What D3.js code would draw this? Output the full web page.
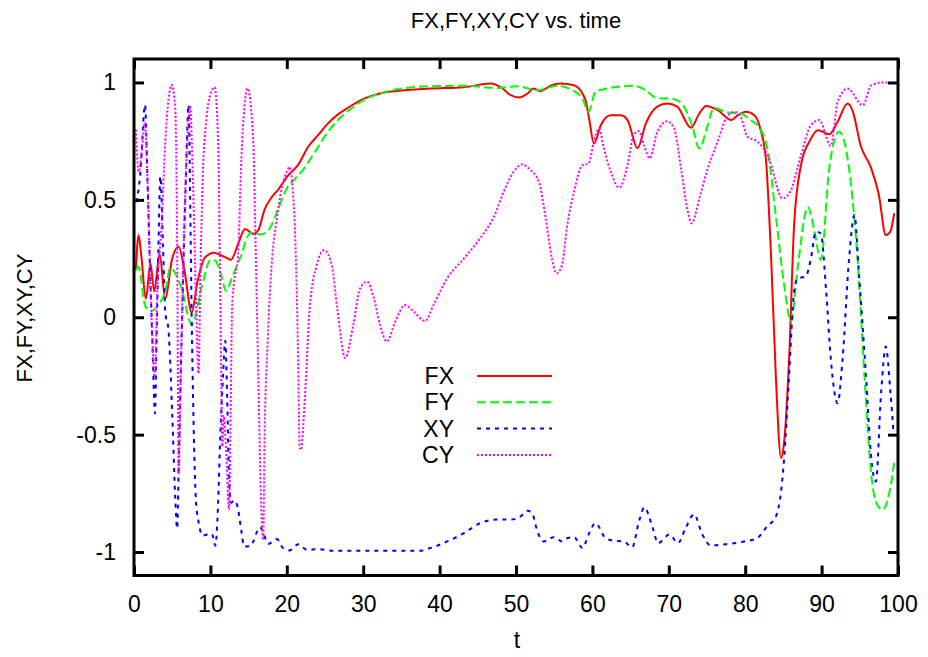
<!DOCTYPE html>
<html>
<head>
<meta charset="utf-8">
<script src="https://cdn.jsdelivr.net/npm/d3@7"></script>
<style>
  body { margin: 0; background: #fff; }
  text { font-family: "Liberation Sans", Arial, sans-serif; fill: #000; }
</style>
</head>
<body>
<svg id="chart" width="928" height="657"></svg>
<script>
// ---- data -------------------------------------------------------------
const seriesNames = ["FX", "FY", "XY", "CY"];
const seriesColors = ["#ff0000", "#00ff00", "#0000ff", "#ff00ff"];
const xTicks = [0, 10, 20, 30, 40, 50, 60, 70, 80, 90, 100];
const yTicks = [-1, -0.5, 0, 0.5, 1];
const yTickLabels = ["-1", "-0.5", "0", "0.5", "1"];

const fxTime = [0.25,0.6,0.9,1.57,2.15,2.65,3.35,4.08,5.0,5.85,6.6,7.55,8.3,9.3,10.5,11.3,12.0,12.7,13.6,14.55,15.6,16.25,17.1,18.0,18.9,20.2,21.5,22.8,24.1,25.4,26.7,27.9,30.05,32.2,34.4,38.8,43.2,46.7,48.0,49.3,50.4,51.5,52.3,53.2,54.5,55.8,57.6,59.1,59.6,60.2,61.1,62.4,63.7,64.6,65.9,67.0,68.5,69.8,71.1,72.9,74.0,74.9,76.4,78.2,79.0,80.1,81.2,82.0,82.7,83.4,84.0,84.7,85.1,85.75,86.4,87.3,88.4,89.5,91.0,92.1,93.4,94.1,95.1,96.5,97.5,98.4,99.0,99.5];
const fxValue = [0.20,0.35,0.28,0.08,0.23,0.11,0.27,0.08,0.25,0.30,0.20,0.02,0.15,0.255,0.275,0.265,0.255,0.245,0.31,0.376,0.355,0.37,0.46,0.51,0.545,0.605,0.65,0.726,0.776,0.826,0.864,0.89,0.93,0.953,0.964,0.974,0.98,0.996,0.98,0.946,0.936,0.953,0.974,0.963,0.986,0.996,0.988,0.925,0.84,0.74,0.818,0.86,0.86,0.84,0.72,0.826,0.897,0.91,0.897,0.807,0.868,0.9,0.882,0.84,0.86,0.875,0.86,0.80,0.677,0.25,-0.245,-0.6,-0.53,-0.175,0.393,0.648,0.748,0.797,0.779,0.833,0.91,0.875,0.733,0.634,0.52,0.35,0.365,0.443];

const fyTime = [0.25,0.6,1.5,2.35,3.3,4.1,4.75,5.4,6.2,7.56,8.9,10.0,10.6,11.4,12.05,12.8,13.2,14.1,14.8,15.4,16.7,17.8,18.9,20.0,21.1,22.1,23.7,25.4,26.7,27.9,30.05,32.2,34.4,38.8,43.2,47.5,50.2,52.8,55.4,57.6,58.7,59.5,60.4,61.5,65.4,67.0,68.3,70.7,72.0,73.1,74.0,75.1,75.9,77.7,79.4,80.7,81.8,82.9,84.0,85.1,86.0,86.9,88.2,89.0,89.9,91.0,92.3,93.4,94.7,95.6,96.5,97.3,98.0,98.9,99.5];
const fyValue = [0.20,0.215,0.045,0.028,0.058,0.11,0.21,0.187,0.125,-0.03,0.133,0.244,0.242,0.18,0.112,0.166,0.20,0.27,0.34,0.36,0.353,0.38,0.464,0.549,0.59,0.627,0.705,0.79,0.84,0.875,0.925,0.953,0.971,0.984,0.986,0.977,0.984,0.967,0.986,0.963,0.932,0.875,0.96,0.971,0.986,0.967,0.935,0.929,0.897,0.811,0.719,0.818,0.892,0.872,0.868,0.84,0.81,0.719,0.435,0.137,-0.018,0.22,0.47,0.379,0.244,0.634,0.79,0.677,0.25,-0.245,-0.671,-0.80,-0.82,-0.742,-0.62];

const xyTime = [0.3,0.8,1.45,1.75,2.1,2.4,2.75,2.95,3.2,3.45,3.8,4.1,4.5,5.0,5.4,5.65,5.9,6.3,6.75,7.15,7.35,7.55,7.8,8.1,8.5,8.95,9.6,10.2,10.65,11.0,11.3,11.65,11.95,12.2,12.45,12.7,13.1,13.5,14.1,14.4,15.2,16.5,17.6,18.7,19.5,20.4,21.5,22.6,24.1,26.3,30.0,37.4,38.8,41.0,43.2,45.3,47.5,49.3,50.6,51.5,52.1,52.8,53.6,54.95,56.05,56.8,57.6,58.7,59.5,60.4,61.7,62.8,64.1,65.2,66.1,66.8,67.9,68.6,70.1,71.2,72.2,73.3,74.4,75.5,77.7,79.9,81.6,82.9,84.0,84.7,85.1,85.75,86.4,86.85,87.9,88.6,89.25,89.9,90.6,91.2,92.1,92.75,93.6,94.3,94.9,95.8,96.5,97.1,97.8,98.4,99.0,99.4];
const xyValue = [0.49,0.6,0.905,0.6,0.2,-0.1,-0.41,-0.1,0.3,0.6,0.3,0.02,-0.05,-0.41,-0.77,-0.9,-0.55,0.0,0.55,0.905,0.5,0.0,-0.45,-0.78,-0.88,-0.93,-0.925,-0.923,-0.973,-0.8,-0.5,-0.25,-0.1,-0.35,-0.7,-0.79,-0.78,-0.8,-0.92,-0.976,-0.975,-0.895,-0.965,-0.945,-0.983,-0.993,-0.967,-0.99,-0.988,-0.995,-0.995,-0.995,-0.983,-0.955,-0.919,-0.877,-0.862,-0.862,-0.848,-0.824,-0.834,-0.912,-0.955,-0.937,-0.955,-0.94,-0.937,-0.983,-0.926,-0.877,-0.94,-0.952,-0.955,-0.98,-0.87,-0.81,-0.898,-0.962,-0.925,-0.962,-0.898,-0.84,-0.926,-0.972,-0.966,-0.955,-0.94,-0.89,-0.85,-0.74,-0.6,-0.245,0.109,0.166,0.173,0.25,0.365,0.357,0.109,-0.175,-0.366,-0.175,0.25,0.435,0.18,-0.245,-0.6,-0.7,-0.316,-0.125,-0.316,-0.486];

const cyTime = [0.25,0.6,1.0,1.4,1.8,2.2,2.7,3.05,3.6,4.1,4.95,5.4,5.65,5.85,6.15,6.5,6.9,7.35,7.7,8.1,8.45,8.7,9.0,9.5,10.0,10.55,10.9,11.1,11.25,11.4,11.55,11.75,12.1,12.45,12.65,12.85,13.1,13.6,14.06,14.85,15.6,15.9,16.3,16.6,16.9,17.1,17.5,17.8,18.9,20.0,20.4,20.8,21.05,21.4,21.7,21.85,22.4,23.0,23.9,24.9,25.9,26.6,27.65,28.7,29.6,30.5,31.4,32.2,33.1,34.2,35.5,36.6,38.1,39.2,41.0,43.2,45.3,47.1,48.4,49.7,50.8,51.9,53.0,53.9,54.7,55.3,56.0,56.7,57.6,58.7,59.5,60.2,60.85,61.5,62.4,63.5,64.6,65.4,66.1,66.75,67.5,68.5,69.8,70.7,71.6,72.4,73.0,74.0,75.1,76.4,77.5,78.6,79.4,80.3,81.6,83.0,84.9,86.0,87.3,88.6,89.7,91.2,92.1,93.4,95.4,96.5,98.2,99.5];
const cyValue = [0.80,0.62,0.70,0.83,0.55,0.1,-0.255,0.11,0.39,0.75,0.99,0.89,0.3,-0.67,-0.2,0.3,0.7,0.9,0.6,0.1,-0.24,0.2,0.6,0.85,0.95,0.98,0.85,0.6,0.2,-0.2,-0.55,-0.42,-0.6,-0.82,-0.4,0.05,0.15,0.25,0.677,0.975,0.757,0.33,-0.3,-0.75,-0.95,-0.5,-0.1,0.11,0.464,0.62,0.64,0.535,0.39,-0.033,-0.557,-0.565,-0.32,0.04,0.22,0.286,0.22,0.038,-0.174,-0.033,0.123,0.152,0.081,-0.033,-0.103,-0.018,0.052,0.024,-0.016,0.052,0.166,0.251,0.336,0.428,0.535,0.62,0.651,0.627,0.577,0.42,0.25,0.187,0.22,0.39,0.535,0.648,0.655,0.748,0.804,0.72,0.62,0.552,0.648,0.776,0.793,0.733,0.677,0.79,0.835,0.804,0.634,0.464,0.4,0.506,0.634,0.748,0.847,0.875,0.854,0.769,0.748,0.686,0.506,0.542,0.69,0.818,0.84,0.73,0.918,0.974,0.903,0.988,1.0,0.995];

const seriesTimes = [fxTime, fyTime, xyTime, cyTime];
const seriesValues = [fxValue, fyValue, xyValue, cyValue];
const seriesDash = [null, "9,4", "4,5", "2,2"];

// ---- layout -----------------------------------------------------------
const svg = d3.select("#chart");
const x = d3.scaleLinear().domain([0, 100]).range([134, 898]);
const y = d3.scaleLinear().domain([-1.1, 1.1]).range([575.5, 59]);
const fontSize = 23;

// plot area clip
svg.append("defs").append("clipPath").attr("id", "plotClip")
  .append("rect")
  .attr("x", x(0)).attr("y", y(1.1))
  .attr("width", x(100) - x(0)).attr("height", y(-1.1) - y(1.1));

// curves
const line = d3.line().curve(d3.curveMonotoneX);
const plot = svg.append("g").attr("clip-path", "url(#plotClip)");
seriesNames.forEach((name, i) => {
  const pts = seriesTimes[i].map((t, k) => [x(t), y(seriesValues[i][k])]);
  plot.append("path")
    .attr("d", line(pts))
    .attr("fill", "none")
    .attr("stroke", seriesColors[i])
    .attr("stroke-width", 2)
    .attr("stroke-dasharray", seriesDash[i]);
});

// axes (ticks point inward, mirrored on top and right)
function styleAxis(g) {
  g.select(".domain").remove();
  g.selectAll(".tick line").attr("stroke", "#000").attr("stroke-width", 3);
  g.selectAll(".tick text").attr("font-size", fontSize).attr("font-family", null);
}
svg.append("g").attr("transform", `translate(0,${y(-1.1)})`)
  .call(d3.axisBottom(x).tickValues(xTicks).tickSizeInner(-10).tickSizeOuter(0).tickPadding(20).tickFormat(d3.format("d")))
  .call(styleAxis);
svg.append("g").attr("transform", `translate(0,${y(1.1)})`)
  .call(d3.axisTop(x).tickValues(xTicks).tickSizeInner(-10).tickSizeOuter(0).tickFormat(""))
  .call(styleAxis);
svg.append("g").attr("transform", `translate(${x(0)},0)`)
  .call(d3.axisLeft(y).tickValues(yTicks).tickSizeInner(-10).tickSizeOuter(0).tickPadding(18)
    .tickFormat((d, i) => yTickLabels[i]))
  .call(styleAxis);
svg.append("g").attr("transform", `translate(${x(100)},0)`)
  .call(d3.axisRight(y).tickValues(yTicks).tickSizeInner(-10).tickSizeOuter(0).tickFormat(""))
  .call(styleAxis);

// frame
svg.append("rect")
  .attr("x", x(0)).attr("y", y(1.1))
  .attr("width", x(100) - x(0)).attr("height", y(-1.1) - y(1.1))
  .attr("fill", "none").attr("stroke", "#000").attr("stroke-width", 3);

// titles
svg.append("text").attr("x", 516).attr("y", 28).attr("text-anchor", "middle")
  .attr("font-size", 22).text("FX,FY,XY,CY vs. time");
svg.append("text").attr("x", 517).attr("y", 648).attr("text-anchor", "middle")
  .attr("font-size", fontSize).text("t");
svg.append("text").attr("transform", "translate(32,318) rotate(-90)").attr("text-anchor", "middle")
  .attr("font-size", 22).text("FX,FY,XY,CY");

// legend
const legend = svg.append("g");
seriesNames.forEach((name, i) => {
  const ly = 376 + i * 26.3;
  legend.append("text").attr("x", 454).attr("y", ly).attr("dy", "0.35em")
    .attr("text-anchor", "end").attr("font-size", fontSize).text(name);
  legend.append("line").attr("x1", 477).attr("x2", 552).attr("y1", ly).attr("y2", ly)
    .attr("stroke", seriesColors[i]).attr("stroke-width", 2)
    .attr("stroke-dasharray", seriesDash[i]);
});
</script>
</body>
</html>
